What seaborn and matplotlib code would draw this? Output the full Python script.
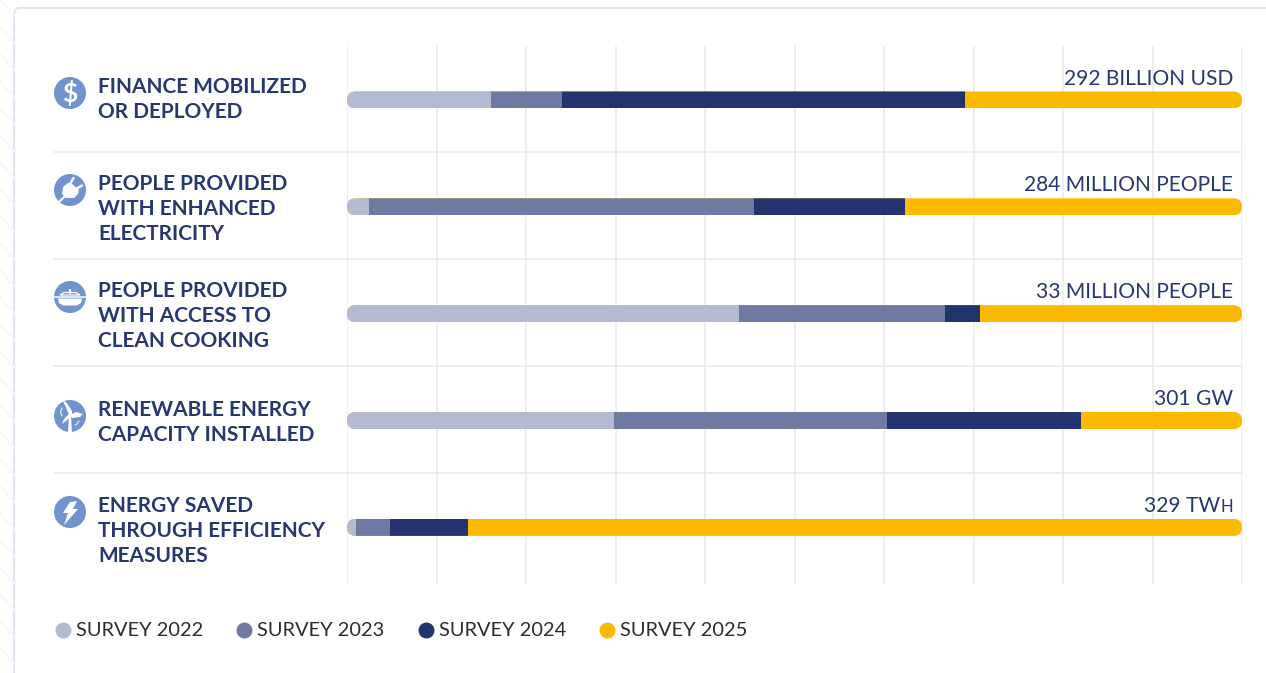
import matplotlib
matplotlib.use("Agg")
import matplotlib.pyplot as plt
import numpy as np
import pandas as pd
import seaborn as sns
from matplotlib.lines import Line2D
from matplotlib.patches import Circle, FancyBboxPatch, Polygon
from matplotlib.transforms import ScaledTranslation

categories = [
    "FINANCE MOBILIZED\nOR DEPLOYED",
    "PEOPLE PROVIDED\nWITH ENHANCED\nELECTRICITY",
    "PEOPLE PROVIDED\nWITH ACCESS TO\nCLEAN COOKING",
    "RENEWABLE ENERGY\nCAPACITY INSTALLED",
    "ENERGY SAVED\nTHROUGH EFFICIENCY\nMEASURES",
]
totals = ["292 BILLION USD", "284 MILLION PEOPLE", "33 MILLION PEOPLE", "301 GW", "329 TW"]
surveys = ["SURVEY 2022", "SURVEY 2023", "SURVEY 2024", "SURVEY 2025"]

share_2022 = [16.1, 2.5, 43.8, 29.8, 1.0]
share_2023 = [7.9, 43.0, 23.0, 30.5, 3.8]
share_2024 = [45.0, 16.9, 3.9, 21.7, 8.7]
share_2025 = [31.0, 37.6, 29.3, 18.0, 86.5]

colors = ["#b4bacf", "#6e7aa1", "#22336d", "#fbb900"]
navy = "#27376f"
icon_blue = "#6f94cf"
grid_col = "#e9e9ec"

sns.set_theme(style="white")
plt.rcParams["font.family"] = ["Lato", "DejaVu Sans"]

df = pd.DataFrame({"category": categories, "s0": share_2022, "s1": share_2023,
                   "s2": share_2024, "s3": share_2025})
stack = df[["s0", "s1", "s2", "s3"]].cumsum(axis=1)
stack["category"] = df["category"]

W, H = 1266, 673
fig = plt.figure(figsize=(W / 100, H / 100), dpi=100, facecolor="white")

# background layer in pixels: card, separators, icons
bg = fig.add_axes([0, 0, 1, 1], zorder=0)
bg.set_xlim(0, W)
bg.set_ylim(H, 0)
bg.axis("off")
for k in range(-20, 60):
    bg.plot([0, 14], [k * 27, k * 27 + 16], color="#f7f8fb", lw=1.5)
bg.add_patch(FancyBboxPatch((14, 8), W + 40, H + 40, boxstyle="round,pad=0,rounding_size=6",
                            fc="white", ec="#dfe5f4", lw=1.5))
for y in [152, 259, 366, 473]:
    bg.plot([54, 1242], [y, y], color=grid_col, lw=1.1)

ax = fig.add_axes([347 / W, 1 - 584 / H, 895 / W, 538 / H], zorder=1)
ax.patch.set_alpha(0)

# longest first so that each shorter stack sits on top
for col, c in zip(["s3", "s2", "s1", "s0"], colors[::-1]):
    sns.barplot(data=stack, x=col, y="category", color=c, saturation=1, width=0.159,
                orient="h", ax=ax, zorder=3, linewidth=0)

ax.set_xlim(0, 100)
ax.set_ylim(4.53, -0.505)
ax.set_xticks(np.arange(0, 101, 10))
ax.grid(axis="x", color=grid_col, lw=1.1, zorder=0)
ax.set_xlabel("")
ax.set_ylabel("")
ax.tick_params(axis="x", length=0, labelbottom=False)
ax.tick_params(axis="y", length=0, pad=179.3)
sns.despine(ax=ax, left=True, bottom=True)
label_shift = [5, 2, 2, 2.5, 1]
for lab, up in zip(ax.get_yticklabels(), label_shift):
    lab.set_ha("left")
    lab.set_fontweight("bold")
    lab.set_fontsize(15)
    lab.set_color(navy)
    lab.set_linespacing(1.3)
    lab.set_transform(lab.get_transform() + ScaledTranslation(0, up / 100, fig.dpi_scale_trans))

# round the two ends of every bar; middle layers start where the layer above ends
aspect = (895 / 100) / (538 / 5.035)
layers = ax.containers
for i in range(len(categories)):
    clip = FancyBboxPatch((0, i - 0.0795), 100, 0.159, boxstyle="round,pad=0,rounding_size=0.95",
                          mutation_aspect=aspect, transform=ax.transData)
    for n, cont in enumerate(layers):
        cont[i].set_clip_path(clip)
    for n in [1, 2]:
        start = layers[n + 1][i].get_width() - 0.1
        end = layers[n][i].get_width()
        layers[n][i].set_x(start)
        layers[n][i].set_width(end - start)

for i, t in enumerate(totals):
    off = -9 * 0.72 if i < 4 else -22 * 0.72
    ax.annotate(t, xy=(100, i), xytext=(off, 22 * 0.72 - 4.8), textcoords="offset points",
                ha="right", va="baseline", fontsize=15.1, color=navy)
ax.annotate("H", xy=(100, 4), xytext=(-9 * 0.72, 22 * 0.72 - 4.8), textcoords="offset points",
            ha="right", va="baseline", fontsize=12, color=navy)

# icons
white = "#f8fafd"
for cy in [93, 190, 297, 416, 512]:
    bg.add_patch(Circle((70, cy), 16, fc=icon_blue, ec="none"))
bg.text(70, 93.5, "$", color="white", fontsize=19, fontweight="bold", ha="center", va="center")
# plug
bg.add_patch(Polygon([(62, 194), (63, 187), (68, 183), (71, 183), (79, 190), (78, 194), (74, 198), (66, 198)],
                     fc=white, ec="none"))
bg.plot([58, 65], [203, 196], color=white, lw=1.6)
bg.plot([70, 73.5], [184, 178], color=white, lw=1.8)
bg.plot([76, 82], [189, 185.5], color=white, lw=1.8)
# pot
bg.plot([54.2, 85.8], [296.7, 296.7], color="white", lw=1.1)
bg.add_patch(Polygon([(58, 298.5), (82, 298.5), (81, 303), (77, 305.5), (63, 305.5), (59, 303)], fc="white", ec="none"))
bg.add_patch(Polygon([(60, 295), (64, 292.5), (76, 292.5), (80, 295)], fc="none", ec="white", lw=0.9))
bg.plot([70, 70], [290, 292.5], color="white", lw=1.6)
# turbine
bg.add_patch(Polygon([(69, 417), (71, 417), (72, 432), (68, 432)], fc="white", ec="none"))
bg.add_patch(Polygon([(70, 417), (67, 410), (63, 401), (66, 402), (72, 411), (72, 416)], fc="white", ec="none"))
bg.add_patch(Polygon([(70, 415), (76, 412), (83, 414), (80, 417), (72, 418)], fc="white", ec="none"))
bg.add_patch(Polygon([(69, 414), (71, 417), (66, 421), (62, 424), (64, 419)], fc="white", ec="none"))
bg.plot([62, 60.5, 62], [408, 412, 416], color="white", lw=0.7)
bg.plot([79, 77, 75], [421, 424, 425], color="white", lw=0.7)
# bolt
bg.add_patch(Polygon([(70, 502), (77, 501), (73, 509), (78, 509), (64, 525), (68, 513), (63, 513)], fc="white", ec="none"))

handles = [Line2D([], [], ls="", marker="o", ms=11.5, mfc=c, mec="none") for c in colors]
fig.legend(handles, surveys, ncol=4, frameon=False, loc="center left",
           bbox_to_anchor=(41 / W, 1 - 631 / H), fontsize=14.4, labelcolor="#2b2b33",
           handletextpad=0.05, columnspacing=1.46, handlelength=1.2, borderpad=0)

fig.savefig("out.png", dpi=100)
